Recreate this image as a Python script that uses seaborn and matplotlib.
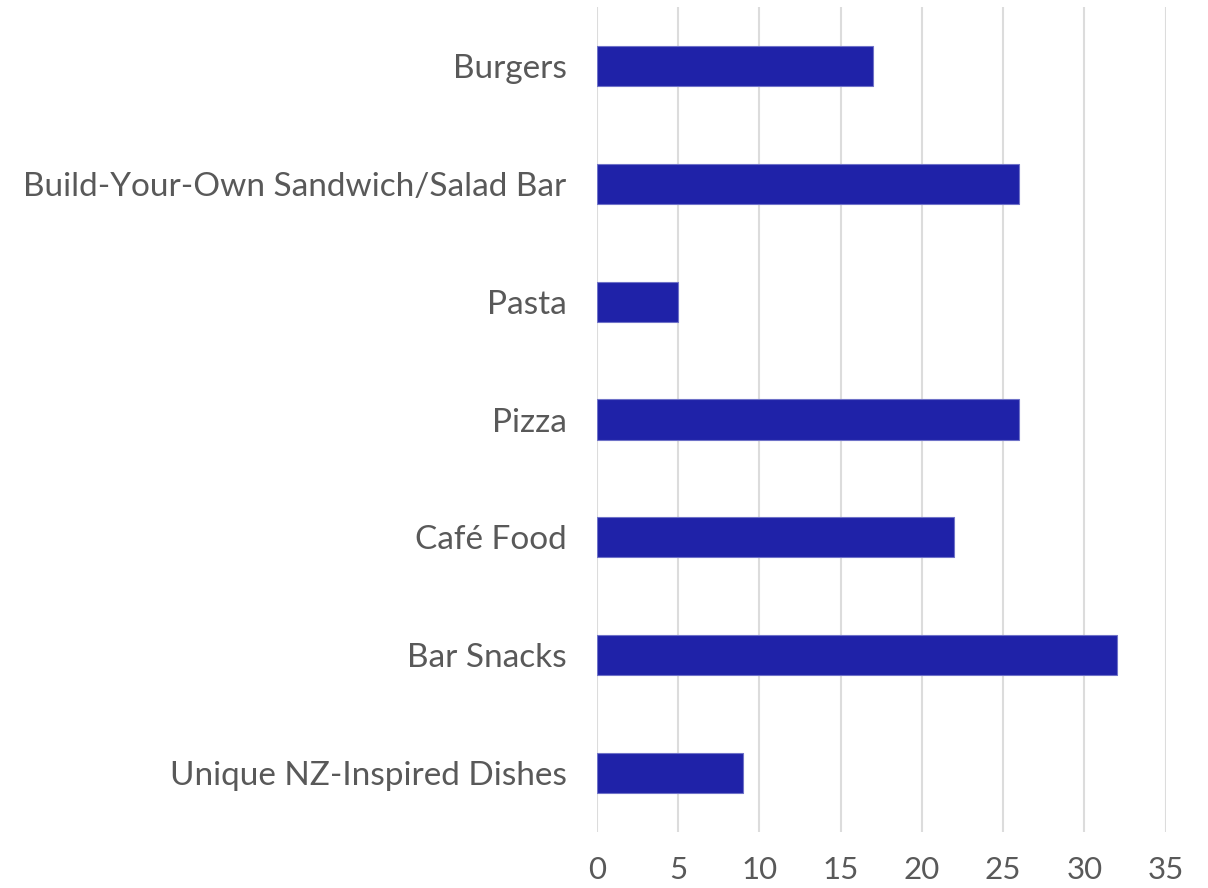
import matplotlib
matplotlib.use("Agg")
import matplotlib.pyplot as plt
import seaborn as sns
import pandas as pd

categories = ["Burgers", "Build-Your-Own Sandwich/Salad Bar", "Pasta", "Pizza",
              "Café Food", "Bar Snacks", "Unique NZ-Inspired Dishes"]
values = [17, 26, 5, 26, 22, 32, 9]
x_ticks = [0, 5, 10, 15, 20, 25, 30, 35]

sns.set_theme(style="white")
plt.rcParams['font.family'] = ['Lato', 'DejaVu Sans']

df = pd.DataFrame({"category": categories, "value": values})

fig = plt.figure(figsize=(12.08, 8.88), dpi=100)
ax = fig.add_axes([597/1208, 1-832/888, (1165.5-597)/1208, (832-7)/888])

sns.barplot(data=df, x="value", y="category", orient="h", color="#1f22a8",
            saturation=1, width=0.34, edgecolor="#6f72c8", linewidth=0.8, ax=ax, zorder=3)

ax.set_xlim(0, 35)
ax.set_ylim(6.5, -0.5)
ax.set_xticks(x_ticks)
ax.xaxis.grid(True, color="#dcdcdc", linewidth=1.5, zorder=0)
ax.set_axisbelow(True)
for s in ax.spines.values():
    s.set_visible(False)
ax.set_xlabel("")
ax.set_ylabel("")
ax.tick_params(axis="x", labelsize=22.5, colors="#595959", length=0, pad=17)
ax.tick_params(axis="y", labelsize=24, colors="#595959", length=0, pad=22)

fig.savefig("out.png", dpi=100)
